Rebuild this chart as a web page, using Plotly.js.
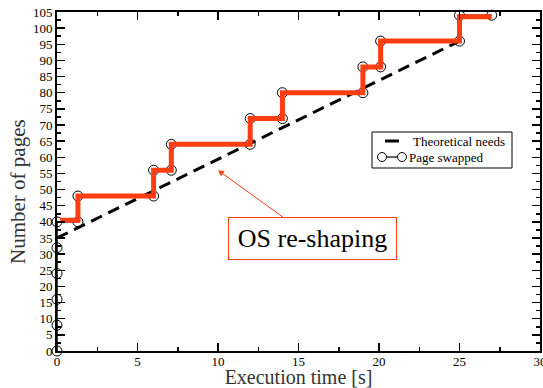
<!DOCTYPE html>
<html><head><meta charset="utf-8">
<script src="https://cdn.plot.ly/plotly-3.0.1.min.js"></script>
<style>html,body{margin:0;padding:0;background:#fff}#c{width:543px;height:388px}</style>
</head><body><div id="c"></div>
<script>
// Theoretical needs (dashed line)
const theoX = [0, 25];
const theoY = [35, 96];
// Page swapped (step curve with circles)
const swapX = [0, 0, 0, 0, 0, 0, 1.3, 1.3, 6, 6, 7.1, 7.1, 12, 12, 14, 14, 19, 19, 20.1, 20.1, 25, 25, 27];
const swapY = [0, 8, 16, 24, 32, 40, 40, 48, 48, 56, 56, 64, 64, 72, 72, 80, 80, 88, 88, 96, 96, 104, 104];
// OS re-shaped allocation (red)
const osX = [0.2, 1.3, 1.3, 6, 6, 7.1, 7.1, 12, 12, 14, 14, 19, 19, 20.1, 20.1, 25, 25, 27];
const osY = [40.5, 40.5, 48, 48, 56, 56, 64, 64, 72, 72, 80, 80, 88, 88, 96, 96, 103.5, 103.5];
const legendNames = ['Theoretical needs', 'Page swapped'];

const serif = 'Liberation Serif, Times New Roman, serif';
const traces = [
  {x: theoX, y: theoY, mode: 'lines', name: legendNames[0], showlegend: false,
   line: {color: '#000', width: 3, dash: '12px,7px'}},
  {x: swapX, y: swapY, mode: 'lines+markers', name: legendNames[1], showlegend: false, cliponaxis: false,
   line: {color: '#000', width: 1.5},
   marker: {symbol: 'circle-open', size: 10, color: '#000', line: {width: 1, color: '#000'}}},
  {x: osX, y: osY, mode: 'lines', name: 'OS', showlegend: false,
   line: {color: '#ff3d12', width: 5}}
];
const axisCommon = {
  showgrid: false, zeroline: false, showline: true, linecolor: '#000', linewidth: 2,
  mirror: 'ticks', ticks: 'inside', ticklen: 8, tickwidth: 1.5, tickcolor: '#000',
  ticklabeloverflow: 'allow',
  tickfont: {family: serif, size: 13, color: '#000'},
  minor: {ticks: 'inside', ticklen: 4, tickwidth: 1.5, tickcolor: '#000'}
};
// pixel -> paper helpers (plot area: x 57..540, y 12..351)
const px = p => (p - 57) / 483;
const py = p => (351 - p) / 339;
const e1 = py(141), e2 = py(157);
const shapes = [
  {type: 'rect', xref: 'paper', yref: 'paper', x0: px(372), x1: px(512), y0: py(168), y1: py(132),
   line: {color: '#000', width: 1}, fillcolor: '#fff', layer: 'above'},
  {type: 'line', xref: 'paper', yref: 'paper', x0: px(385), x1: px(399), y0: e1, y1: e1,
   line: {color: '#000', width: 3}, layer: 'above'},
  {type: 'line', xref: 'paper', yref: 'paper', x0: px(382), x1: px(402), y0: e2, y1: e2,
   line: {color: '#000', width: 1.2}, layer: 'above'},
  {type: 'circle', xref: 'paper', yref: 'paper', xsizemode: 'pixel', ysizemode: 'pixel',
   xanchor: px(382), yanchor: e2, x0: -4.5, x1: 4.5, y0: -4.5, y1: 4.5,
   line: {color: '#000', width: 1}, fillcolor: '#fff', layer: 'above'},
  {type: 'circle', xref: 'paper', yref: 'paper', xsizemode: 'pixel', ysizemode: 'pixel',
   xanchor: px(402), yanchor: e2, x0: -4.5, x1: 4.5, y0: -4.5, y1: 4.5,
   line: {color: '#000', width: 1}, fillcolor: '#fff', layer: 'above'}
];
const layout = {
  width: 543, height: 388,
  margin: {l: 57, r: 3, t: 12, b: 37},
  paper_bgcolor: '#fff', plot_bgcolor: '#fff',
  showlegend: false,
  xaxis: Object.assign({}, axisCommon, {range: [0, 30], dtick: 5, tick0: 0, ticklabelstandoff: -3,
    minor: Object.assign({}, axisCommon.minor, {dtick: 2.5}),
    title: {text: 'Execution time [s]', font: {family: serif, size: 20, color: '#333'}, standoff: 0}}),
  yaxis: Object.assign({}, axisCommon, {range: [0, 105], dtick: 5, tick0: 0,
    minor: Object.assign({}, axisCommon.minor, {dtick: 2.5})}),
  shapes: shapes,
  annotations: [
    {x: 10, y: 56, xref: 'x', yref: 'y', ax: 94, ay: 68,
     text: 'OS re-shaping', showarrow: true, arrowhead: 2, arrowsize: 1.2, arrowwidth: 1,
     arrowcolor: '#ff3d12', font: {family: serif, size: 26, color: '#000'},
     width: 159, height: 33,
     bordercolor: '#ff3d12', borderwidth: 1, borderpad: 4, bgcolor: '#fff'},
    {x: px(18), y: py(192), xref: 'paper', yref: 'paper', xanchor: 'center', yanchor: 'middle',
     showarrow: false, textangle: -90,
     text: 'Number of pages', font: {family: serif, size: 21, color: '#333'}},
    {x: px(411), y: e1, xref: 'paper', yref: 'paper', xanchor: 'left', yanchor: 'middle', showarrow: false,
     text: legendNames[0], font: {family: serif, size: 13, color: '#000'}},
    {x: px(407), y: e2, xref: 'paper', yref: 'paper', xanchor: 'left', yanchor: 'middle', showarrow: false,
     text: legendNames[1], font: {family: serif, size: 13, color: '#000'}}
  ]
};
Plotly.newPlot('c', traces, layout, {displayModeBar: false, staticPlot: true});
</script>
</body></html>
